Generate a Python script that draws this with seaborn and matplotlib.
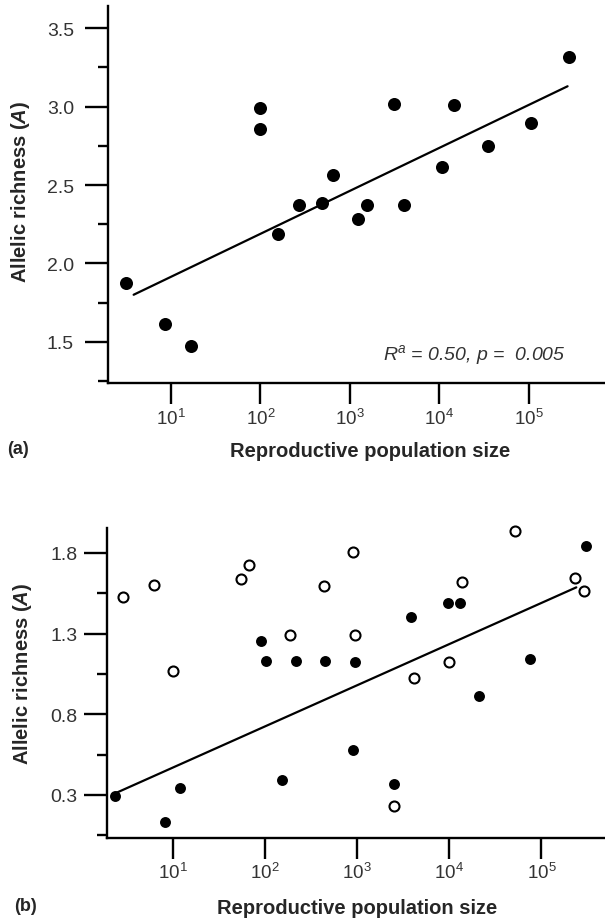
import numpy as np
import pandas as pd
import matplotlib
matplotlib.use("Agg")
import matplotlib.pyplot as plt
import seaborn as sns
from matplotlib.ticker import FixedLocator, MultipleLocator, NullLocator

# ---- panel (a): all populations ----
a_size = [3.15, 8.5, 16.6, 100, 100, 157, 273, 488, 655, 1241, 1542,
          3077, 4037, 10770, 14550, 35400, 105000, 280000]
a_rich = [1.873, 1.615, 1.471, 2.99, 2.855, 2.187, 2.374, 2.383, 2.566,
          2.283, 2.374, 3.019, 2.374, 2.615, 3.011, 2.749, 2.894, 3.315]
a_fit_size = [3.84, 271000]
a_fit_rich = [1.80, 3.13]

# ---- panel (b): two groups of populations ----
b_filled_size = [2.35, 8.15, 12, 89, 103, 151, 216, 443, 908, 933, 2500,
                 3850, 9700, 13060, 21200, 76000, 307000]
b_filled_rich = [0.295, 0.134, 0.345, 1.256, 1.129, 0.395, 1.129, 1.132,
                 0.581, 1.122, 0.366, 1.401, 1.488, 1.488, 0.912, 1.141, 1.845]
b_open_size = [2.86, 6.25, 10, 55, 67, 186, 434, 891, 933, 2500, 4160,
               9860, 13840, 52000, 229000, 288000]
b_open_rich = [1.529, 1.603, 1.07, 1.639, 1.727, 1.292, 1.594, 1.804,
               1.292, 0.232, 1.023, 1.122, 1.618, 1.938, 1.643, 1.566]
b_fit_size = [2.35, 239000]
b_fit_rich = [0.31, 1.587]

x_ticks = [1e1, 1e2, 1e3, 1e4, 1e5]
x_ticklabels = [r"$\mathregular{10^{%d}}$" % k for k in range(1, 6)]

sns.set_style("ticks")
plt.rcParams["font.family"] = ["Liberation Sans", "DejaVu Sans"]
plt.rcParams["mathtext.fontset"] = "custom"
plt.rcParams["mathtext.rm"] = "Liberation Sans"
plt.rcParams["mathtext.it"] = "Liberation Sans:italic"
plt.rcParams["mathtext.bf"] = "Liberation Sans:bold"
plt.rcParams["mathtext.bfit"] = "Liberation Sans:italic:bold"

TXT = "#333333"
LAB = "#262626"

fig = plt.figure(figsize=(6.05, 9.2), dpi=100)
ax_a = fig.add_axes([108 / 605, 1 - 383.7 / 920, 497 / 605, 376.7 / 920])
ax_b = fig.add_axes([107 / 605, 1 - 839 / 920, 498 / 605, 310 / 920])

df_a = pd.DataFrame({"size": a_size, "rich": a_rich})
df_afit = pd.DataFrame({"size": a_fit_size, "rich": a_fit_rich})
df_bf = pd.DataFrame({"size": b_filled_size, "rich": b_filled_rich})
df_bo = pd.DataFrame({"size": b_open_size, "rich": b_open_rich})
df_bfit = pd.DataFrame({"size": b_fit_size, "rich": b_fit_rich})

# panel (a)
sns.lineplot(data=df_afit, x="size", y="rich", ax=ax_a, color="black",
             linewidth=1.6, sort=False)
sns.scatterplot(data=df_a, x="size", y="rich", ax=ax_a, color="black",
                s=88, linewidth=0, zorder=3, clip_on=False)

# panel (b)
sns.lineplot(data=df_bfit, x="size", y="rich", ax=ax_b, color="black",
             linewidth=1.6, sort=False)
sns.scatterplot(data=df_bf, x="size", y="rich", ax=ax_b, color="black",
                s=62, linewidth=0, zorder=3, clip_on=False)
sns.scatterplot(data=df_bo, x="size", y="rich", ax=ax_b, facecolor="white",
                edgecolor="black", s=52, linewidth=1.5, zorder=3,
                clip_on=False)

for ax in (ax_a, ax_b):
    ax.set_xscale("log")
    ax.xaxis.set_major_locator(FixedLocator(x_ticks))
    ax.xaxis.set_minor_locator(NullLocator())
    ax.set_xticklabels(x_ticklabels)
    sns.despine(ax=ax)
    for sp in ("left", "bottom"):
        ax.spines[sp].set_linewidth(1.7)
        ax.spines[sp].set_color("black")
    ax.tick_params(axis="x", which="major", length=15, width=1.7,
                   color="black", labelsize=13.5, labelcolor=TXT)
    ax.tick_params(axis="y", which="major", length=16.5, width=1.7,
                   color="black", labelsize=14, labelcolor=TXT)
    ax.tick_params(axis="y", which="minor", length=7, width=1.7,
                   color="black")

ax_a.set_xlim(10 ** 0.298, 10 ** 5.851)
ax_a.set_ylim(1.239, 3.642)
ax_a.yaxis.set_major_locator(FixedLocator([1.5, 2.0, 2.5, 3.0, 3.5]))
ax_a.yaxis.set_minor_locator(MultipleLocator(0.25))
ax_a.tick_params(axis="y", which="major", pad=8)
ax_a.tick_params(axis="x", which="major", pad=3)

ax_b.set_xlim(10 ** 0.282, 10 ** 5.69)
ax_b.set_ylim(0.033, 1.955)
ax_b.yaxis.set_major_locator(FixedLocator([0.3, 0.8, 1.3, 1.8]))
ax_b.yaxis.set_minor_locator(FixedLocator([0.05, 0.55, 1.05, 1.55]))
ax_b.tick_params(axis="y", which="major", pad=5)
ax_b.tick_params(axis="x", which="major", pad=2)

ax_a.yaxis.set_major_formatter(matplotlib.ticker.FormatStrFormatter("%.1f"))
ax_b.yaxis.set_major_formatter(matplotlib.ticker.FormatStrFormatter("%.1f"))

xl = "Reproductive population size"
yl = r"Allelic richness ($\mathbfit{A}$)"
for ax, xc, yc, ylx, yly in ((ax_a, 0.527, -0.1805, -0.177, 0.510),
                             (ax_b, 0.502, -0.2235, -0.169, 0.532)):
    ax.set_xlabel(xl, fontsize=14.5, fontweight="bold", color=LAB)
    ax.set_ylabel(yl, fontsize=14.5, fontweight="bold", color=LAB)
    ax.xaxis.set_label_coords(xc, yc)
    ax.xaxis.label.set_verticalalignment("center")
    ax.yaxis.set_label_coords(ylx, yly)
    ax.yaxis.label.set_verticalalignment("center")

ax_a.text(0.737, 0.076, r"R$^{a}$ = 0.50, p =  0.005", transform=ax_a.transAxes,
          ha="center", va="center", fontsize=14, fontstyle="italic", color=TXT)

fig.text(18 / 605, 1 - 450 / 920, "(a)", fontsize=13, fontweight="bold",
         color=LAB, ha="center", va="center")
fig.text(25.5 / 605, 1 - 906.7 / 920, "(b)", fontsize=13, fontweight="bold",
         color=LAB, ha="center", va="center")

fig.savefig("out.png", dpi=100)
